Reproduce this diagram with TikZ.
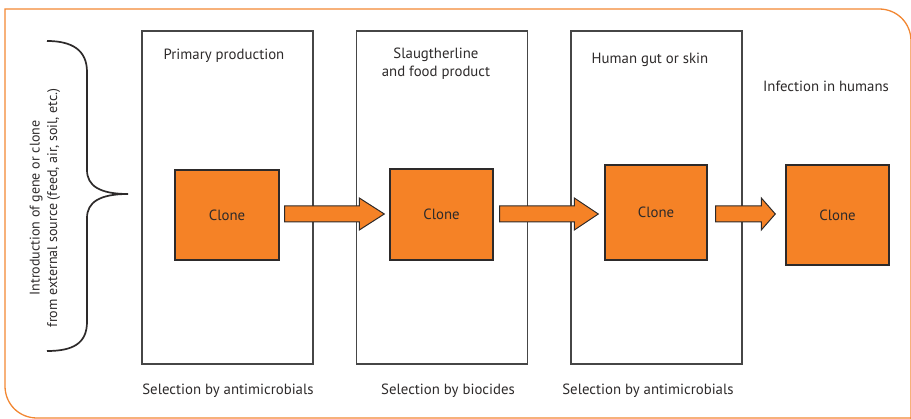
\documentclass[tikz,border=0pt]{standalone}
\usepackage{fontspec}
\setmainfont{PT Sans}
\usetikzlibrary{calc}
\definecolor{clonefill}{RGB}{245,130,38}
\definecolor{frameorange}{RGB}{242,135,50}
\definecolor{inkgray}{RGB}{45,42,42}
\definecolor{boxgray}{RGB}{70,70,70}
\tikzset{
  txt/.style={font=\fontsize{14.8}{18.4}\selectfont, text=inkgray, inner sep=0pt, anchor=base},
  stage/.style={draw=boxgray, line width=1.1pt, minimum width=171pt, minimum height=333pt, inner sep=0pt},
  clone/.style={draw=inkgray, fill=clonefill, line width=1.4pt, inner sep=0pt,
    font=\fontsize{14.8}{17}\selectfont, text=inkgray},
  fatarrow/.style={draw=inkgray, fill=clonefill, line width=1pt, line join=miter},
  brace/.style={draw=inkgray, line width=1.7pt},
  frame/.style={draw=frameorange, line width=1.3pt}
}
% block arrow from #1 to #2 with a head of length #3
\newcommand{\fatarrow}[3]{%
  \draw[fatarrow] let \p1=(#1), \p2=(#2) in
    (\x1,\y1+8pt) -- ({\x2-#3},\y1+8pt) -- ({\x2-#3},\y1+16pt) -- (\x2,\y1)
    -- ({\x2-#3},\y1-16pt) -- ({\x2-#3},\y1-8pt) -- (\x1,\y1-8pt) -- cycle;}
\begin{document}
\begin{tikzpicture}[x=1pt,y=-1pt]
\useasboundingbox (0,0) rectangle (911,419);

% outer frame, rounded at top right and bottom left
\draw[frame] (925,418) -- (37,418) .. controls (19,418) and (5,404) .. (5,386)
  -- (5,9) -- (879,9) .. controls (897,9) and (911,23) .. (911,41) -- (911,430);

% stages
\node[stage] (s1) at (227.5,197.5) {};
\node[stage] (s2) at (442,197.5) {};
\node[stage] (s3) at (656.5,197.5) {};

% stage titles
\node[txt] (t1) at (224,59.5) {Primary production};
\node[txt, align=center] (t2) at (436,76.7) {Slaugtherline\\and food product};
\node[txt] (t3) at (650,63.5) {Human gut or skin};
\node[txt] (t4) at (826,91.5) {Infection in humans};

% selection pressures
\node[txt] (p1) at (228,395) {Selection by antimicrobials};
\node[txt] (p2) at (448,395) {Selection by biocides};
\node[txt] (p3) at (648,395) {Selection by antimicrobials};

% clones
\node[clone, minimum width=104pt, minimum height=90pt] (c1) at (227,215) {Clone};
\node[clone, minimum width=103pt, minimum height=91pt] (c2) at (441.5,214.5) {Clone};
\node[clone, minimum width=102pt, minimum height=95pt] (c3) at (656,212.5) {Clone};
\node[clone, minimum width=103pt, minimum height=100pt] (c4) at (837.5,215) {Clone};

% arrow ends
\coordinate (mid) at (0,214);
\coordinate (a1s) at ($(c1.east |- mid)+(5,0)$);
\coordinate (a1e) at ($(c2.west |- mid)+(-5,0)$);
\coordinate (a2s) at ($(c2.east |- mid)+(6,0)$);
\coordinate (a2e) at ($(c3.west |- mid)+(-6,0)$);
\coordinate (a3s) at ($(c3.east |- mid)+(8,0)$);
\coordinate (a3e) at ($(c4.west |- mid)+(-10,0)$);
\fatarrow{a1s}{a1e}{25pt}
\fatarrow{a2s}{a2e}{24pt}
\fatarrow{a3s}{a3e}{14pt}

% brace gathering the external sources
\draw[brace] (47,41) .. controls (72,41) and (87,50) .. (87,72) -- (87,170)
  .. controls (87,186) and (100,194) .. (128,194)
  .. controls (100,194) and (87,202) .. (87,218) -- (87,322)
  .. controls (87,344) and (72,351) .. (47,351);
\node[txt, anchor=center, rotate=90, align=center, font=\fontsize{14}{17.5}\selectfont] (src) at (45,208)
  {Introduction of gene or clone\\from external source (feed, air, soil, etc.)};
\end{tikzpicture}
\end{document}
